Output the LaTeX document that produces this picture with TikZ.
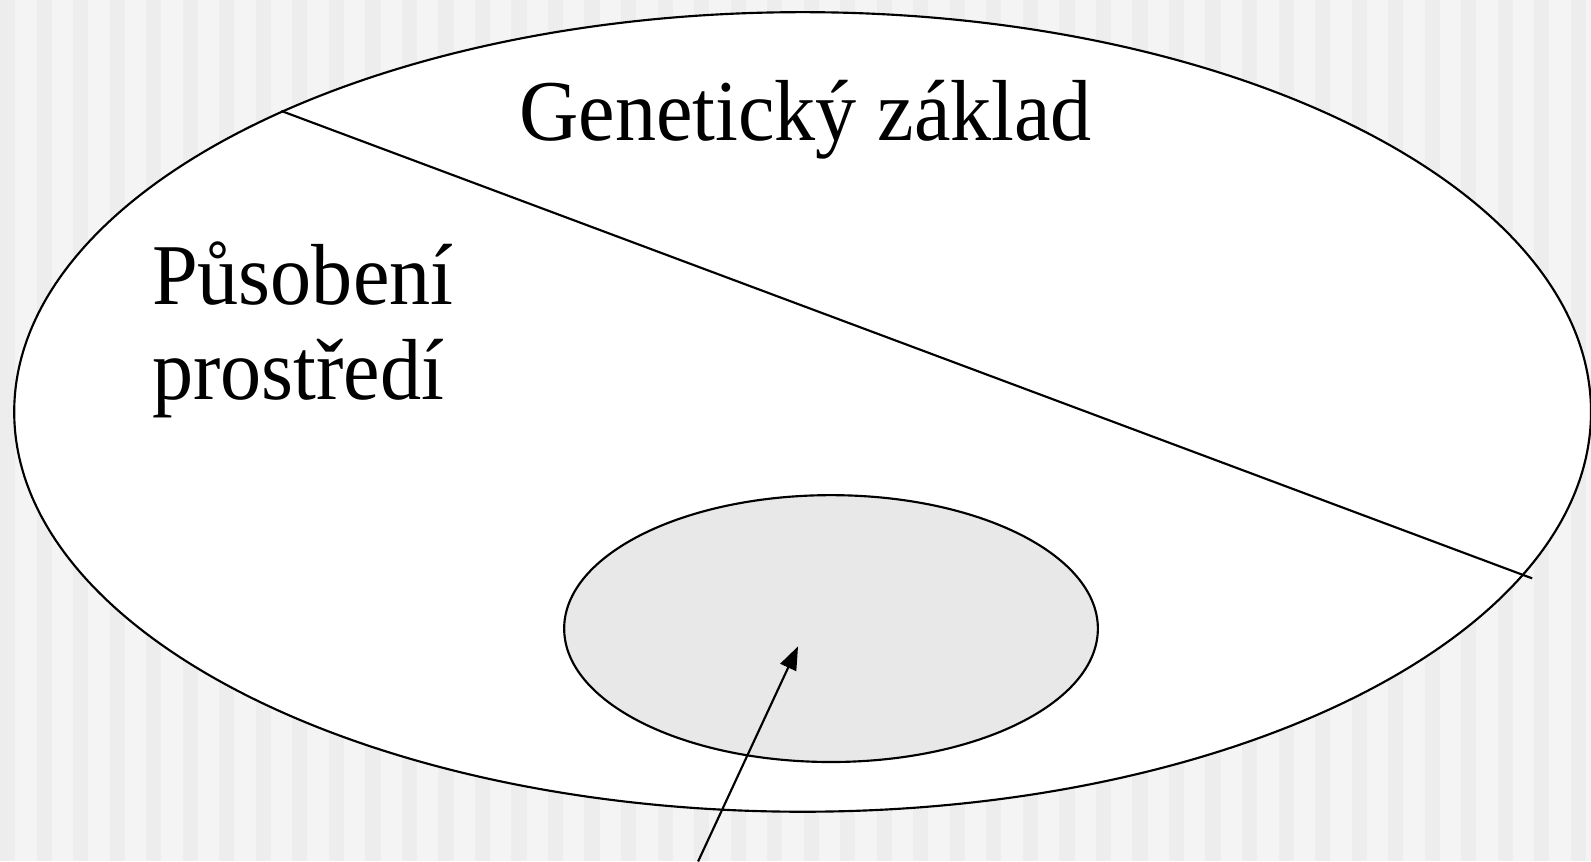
\documentclass[tikz,border=0pt]{standalone}
\usepackage{fontspec}
\setmainfont{Liberation Serif}
\usetikzlibrary{arrows.meta,shapes,positioning}

\definecolor{bgpaper}{HTML}{F4F4F4}
\definecolor{bgband}{HTML}{EDEDED}
\definecolor{coreFill}{HTML}{E8E8E8}

\begin{document}
\begin{tikzpicture}[line width=0.6pt,
		blob/.style={draw, ellipse, inner sep=0pt},
		label/.style={font=\fontsize{24.3}{27}\selectfont, inner sep=0pt, xscale=0.948, transform shape},
		every edge/.style={draw, -{Triangle[length=2.3mm,width=1.7mm]}}]

		% Background
		\useasboundingbox (0,0.12) rectangle (15.68,8.61);
		\fill[bgpaper] (0,0.12) rectangle (15.68,8.61);
		\foreach \x in {0,0.36,...,15.6}
			\fill[bgband] (\x,0.12) rectangle ++(0.15,8.49);

		% Nodes
		\node (outer) [blob, fill=white, minimum width=15.54cm, minimum height=7.88cm] at (7.91,4.55) {};
		\node (core) [blob, fill=coreFill, minimum width=5.26cm, minimum height=2.63cm] at (8.19,2.415) {};
		\node (gen) [label, anchor=base] at (7.94,7.23) {Genetický základ};
		\node (env) [label, anchor=base west] at (1.49,5.61) {Působení};
		\node (env2) [label, anchor=base west] at (1.49,4.67) {prostředí};

		% Edges
		\coordinate (cutA) at (outer.150);
		\coordinate (cutB) at (15.10,2.91);
		\draw (cutA) -- (cutB);
		\coordinate (foot) at (6.88,0.12);
		\coordinate (tip) at (7.865,2.24);
		\draw (foot) edge (tip);
	\end{tikzpicture}
\end{document}
